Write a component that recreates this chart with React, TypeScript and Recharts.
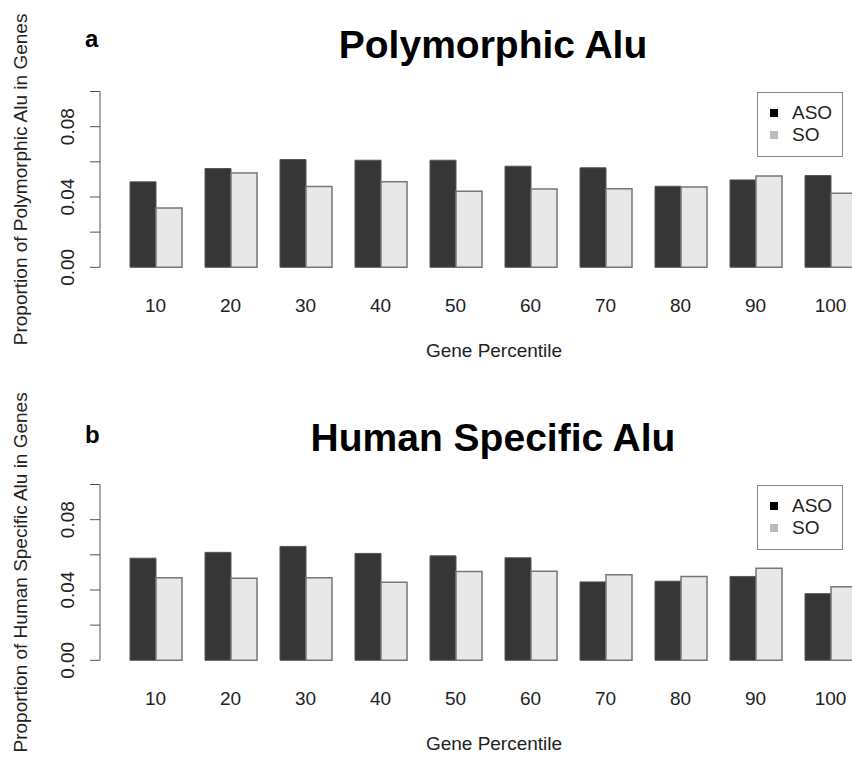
import React from 'react';
import { BarChart, Bar, XAxis, YAxis, Legend } from 'recharts';

// gene percentile groups
const percentiles = ['10', '20', '30', '40', '50', '60', '70', '80', '90', '100'];

// panel a: polymorphic Alu
const polyASO = [0.0486, 0.0562, 0.0613, 0.0609, 0.0609, 0.0575, 0.0566, 0.0461, 0.0497, 0.0522];
const polySO = [0.0337, 0.0537, 0.0459, 0.0487, 0.0432, 0.0446, 0.0447, 0.0457, 0.052, 0.0421];

// panel b: human specific Alu
const humanASO = [0.0581, 0.0614, 0.0648, 0.0608, 0.0594, 0.0583, 0.0446, 0.045, 0.0477, 0.0379];
const humanSO = [0.0469, 0.0467, 0.0469, 0.0444, 0.0505, 0.0507, 0.0486, 0.0477, 0.0524, 0.0419];

const yTicks = [0, 0.02, 0.04, 0.06, 0.08, 0.1];
const yLabeled = [0, 0.04, 0.08];
const seriesNames = ['ASO', 'SO'];
const legendColors = ['#000000', '#bbbbbb'];

const FONT = '"Liberation Sans", Arial, Helvetica, sans-serif';

const buildRows = (aso: number[], so: number[]) =>
  percentiles.map((p, i) => ({ pct: p, ASO: aso[i], SO: so[i] }));

const XTick = (props: any) => {
  const { x, y, payload } = props;
  return (
    <text x={x} y={y + 44.5} textAnchor="middle" fontSize={19} fill="#222" fontFamily={FONT}>
      {payload.value}
    </text>
  );
};

const YTick = (props: any) => {
  const { x, y, payload } = props;
  const v = payload.value;
  if (!yLabeled.some((t) => Math.abs(t - v) < 1e-9)) return <g />;
  const tx = x - 16;
  return (
    <text
      x={tx}
      y={y}
      transform={`rotate(-90, ${tx}, ${y})`}
      textAnchor="middle"
      fontSize={19}
      fill="#222"
      fontFamily={FONT}
    >
      {v.toFixed(2)}
    </text>
  );
};

const XTitle = (props: any) => {
  const { viewBox } = props;
  return (
    <text
      x={viewBox.x + viewBox.width / 2 + 10}
      y={viewBox.y + 89.7}
      textAnchor="middle"
      fontSize={19}
      fill="#222"
      fontFamily={FONT}
    >
      Gene Percentile
    </text>
  );
};

const YTitle = (props: any) => {
  const { viewBox, text } = props;
  const tx = viewBox.x + 27;
  const ty = viewBox.y + viewBox.height / 2;
  return (
    <text
      x={tx}
      y={ty}
      transform={`rotate(-90, ${tx}, ${ty})`}
      textAnchor="middle"
      fontSize={19}
      fill="#222"
      fontFamily={FONT}
    >
      {text}
    </text>
  );
};

const LegendBox = () => (
  <div
    style={{
      width: 86,
      height: 65,
      border: '1px solid #888',
      boxSizing: 'border-box',
      background: '#fff',
      fontFamily: FONT,
      fontSize: 19,
      color: '#222',
      position: 'relative',
    }}
  >
    {seriesNames.map((name, i) => (
      <div
        key={name}
        style={{ position: 'absolute', left: 0, top: 9 + i * 22, height: 22, display: 'flex', alignItems: 'center' }}
      >
        <span
          style={{ display: 'inline-block', width: 8, height: 8, background: legendColors[i], marginLeft: 12, marginRight: 14 }}
        />
        <span style={{ lineHeight: '22px' }}>{name}</span>
      </div>
    ))}
  </div>
);

type PanelProps = {
  letter: string;
  letterY: number;
  title: string;
  yLabel: string;
  aso: number[];
  so: number[];
};

const Panel: React.FC<PanelProps> = ({ letter, letterY, title, yLabel, aso, so }) => {
  const rows = buildRows(aso, so);
  return (
    <div style={{ position: 'relative', width: 852, height: 393, overflow: 'hidden' }}>
      <BarChart
        width={870}
        height={393}
        data={rows}
        margin={{ top: 91.5, right: 2, bottom: 25.7, left: 0 }}
        barCategoryGap={12}
        barGap={0}
      >
        <XAxis
          dataKey="pct"
          axisLine={false}
          tickLine={false}
          tickSize={0}
          tickMargin={0}
          height={100}
          interval={0}
          padding={{ left: 18, right: 0 }}
          tick={<XTick />}
          label={<XTitle />}
        />
        <YAxis
          width={100}
          domain={[0, 0.1]}
          ticks={yTicks}
          interval={0}
          tickSize={10}
          tickMargin={0}
          axisLine={{ stroke: '#555', strokeWidth: 1 }}
          tickLine={{ stroke: '#555', strokeWidth: 1 }}
          tick={<YTick />}
          label={<YTitle text={yLabel} />}
        />
        <Legend
          layout="vertical"
          align="center"
          verticalAlign="middle"
          content={<LegendBox />}
          wrapperStyle={{ left: 757, top: 92, width: 86, height: 65 }}
        />
        <Bar dataKey="ASO" fill="#363636" stroke="#555" strokeWidth={1} isAnimationActive={false} />
        <Bar dataKey="SO" fill="#e8e8e8" stroke="#777" strokeWidth={1.5} isAnimationActive={false} />
      </BarChart>
      <svg
        width={852}
        height={393}
        style={{ position: 'absolute', left: 0, top: 0, pointerEvents: 'none' }}
      >
        <text x={85} y={letterY} fontSize={24} fontWeight="bold" fill="#000" fontFamily={FONT}>
          {letter}
        </text>
        <text x={493} y={58} textAnchor="middle" fontSize={39} fontWeight="bold" fill="#000" fontFamily={FONT}>
          {title}
        </text>
      </svg>
    </div>
  );
};

const App: React.FC = () => {
  return (
    <div
      style={{
        position: 'absolute',
        left: 0,
        top: 0,
        width: 852,
        height: 758,
        overflow: 'hidden',
        background: '#fff',
      }}
    >
      <Panel
        letter="a"
        letterY={47}
        title="Polymorphic Alu"
        yLabel="Proportion of Polymorphic Alu in Genes"
        aso={polyASO}
        so={polySO}
      />
      <Panel
        letter="b"
        letterY={50}
        title="Human Specific Alu"
        yLabel="Proportion of Human Specific Alu in Genes"
        aso={humanASO}
        so={humanSO}
      />
    </div>
  );
};

export default App;
